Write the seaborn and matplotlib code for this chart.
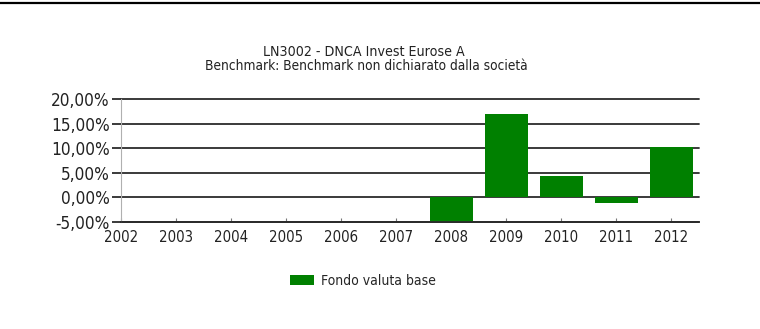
import numpy as np
import pandas as pd
import matplotlib
matplotlib.use('Agg')
import matplotlib.pyplot as plt
from matplotlib.lines import Line2D
from matplotlib.ticker import FuncFormatter
import seaborn as sns

# data (yearly return, %)
years = ['2002', '2003', '2004', '2005', '2006', '2007', '2008', '2009', '2010', '2011', '2012']
returns = [np.nan, np.nan, np.nan, np.nan, np.nan, np.nan, -5.0, 16.9, 4.3, -1.2, 10.2]
y_ticks = [-5, 0, 5, 10, 15, 20]
title_line1 = 'LN3002 - DNCA Invest Eurose A'
title_line2 = 'Benchmark: Benchmark non dichiarato dalla società'
series_name = 'Fondo valuta base'

df = pd.DataFrame({'Anno': years, 'Rendimento': returns, 'Serie': series_name})

sns.set_style('white')
plt.rcParams['font.family'] = ['DejaVu Sans']
plt.rcParams['font.stretch'] = 'condensed'

fig = plt.figure(figsize=(7.6, 3.29), dpi=100)
ax = fig.add_axes([121/760, 1 - 222/329, 578/760, 123/329])

sns.barplot(data=df, x='Anno', y='Rendimento', hue='Serie', order=years,
            palette=['#008000'], width=0.78, saturation=1, linewidth=0, ax=ax)
# bars above the grid lines
for p in ax.patches:
    p.set_zorder(3)

ax.set_xlim(0, 10.5)
ax.set_ylim(-5, 20)
ax.set_yticks(y_ticks)
ax.yaxis.set_major_formatter(FuncFormatter(lambda v, p: f'{v:.2f}%'.replace('.', ',')))
ax.set_xlabel('')
ax.set_ylabel('')

# horizontal grid lines
for v in y_ticks:
    ax.axhline(v, color='#2b2b2b', lw=1.3, zorder=1, clip_on=False)

for s in ['top', 'right']:
    ax.spines[s].set_visible(False)
ax.spines['bottom'].set_color('#2b2b2b')
ax.spines['bottom'].set_linewidth(1.3)
ax.spines['bottom'].set_zorder(4)
ax.spines['left'].set_color('#b0b0b0')
ax.spines['left'].set_linewidth(0.8)

ax.tick_params(axis='y', direction='out', length=6.5, width=1.3, color='#2b2b2b',
               pad=1.5, labelsize=12.3, labelcolor='#222222', left=True)
ax.tick_params(axis='x', direction='in', length=3, width=0.8, color='#777777',
               pad=6, labelsize=10.7, labelcolor='#222222', bottom=True)

# legend below the plot
ax.legend_.remove()
h, l = ax.get_legend_handles_labels()
fig.legend(h, l, loc='center left', bbox_to_anchor=(290/760, 1 - 281/329), frameon=False,
           fontsize=10, handlelength=1.75, handleheight=0.65, handletextpad=0.45,
           borderpad=0, borderaxespad=0)

# two line title
fig.text(364/760, 1 - 52.5/329, title_line1, ha='center', va='center', fontsize=10.2, color='#222222')
fig.text(366/760, 1 - 66/329, title_line2, ha='center', va='center', fontsize=9.8, color='#222222')

# black rule at the very top
fig.add_artist(Line2D([0, 1], [1 - 3/329, 1 - 3/329], color='black', lw=1.6, transform=fig.transFigure))

fig.savefig('out.png', dpi=100)
